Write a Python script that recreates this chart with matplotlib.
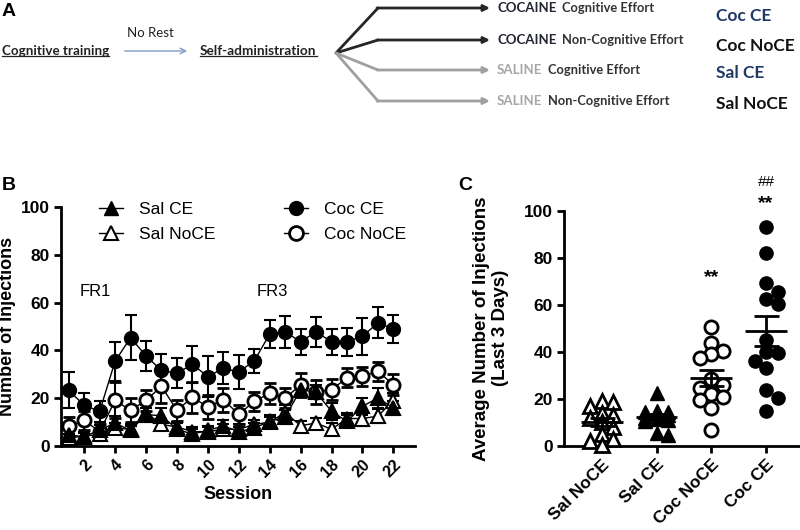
import numpy as np
import matplotlib
matplotlib.use("Agg")
import matplotlib.pyplot as plt
from matplotlib.lines import Line2D

# ---------------- data ----------------
sessions = list(range(1, 23))
session_ticks = [2, 4, 6, 8, 10, 12, 14, 16, 18, 20, 22]

coc_ce = [23.3, 17.0, 14.5, 35.5, 45.3, 37.7, 31.6, 30.4, 34.2, 29.0, 32.5,
          31.0, 35.6, 46.8, 47.8, 43.6, 47.8, 43.6, 43.6, 45.9, 51.5, 49.0]
coc_ce_sem = [7.5, 5.0, 4.3, 8.2, 9.5, 6.3, 6.8, 6.3, 7.7, 8.5, 6.7,
              7.0, 5.0, 6.0, 6.6, 5.4, 6.2, 5.4, 5.8, 7.7, 6.5, 5.9]
coc_noce = [8.2, 10.7, 6.0, 19.1, 14.9, 19.1, 25.0, 14.9, 20.4, 16.3, 19.4,
            13.2, 18.7, 22.0, 20.1, 25.5, 22.5, 23.6, 28.5, 29.1, 31.2, 25.7]
coc_noce_sem = [4.0, 4.0, 3.0, 7.5, 5.0, 4.5, 7.0, 4.5, 6.5, 5.0, 5.0,
                4.0, 4.0, 4.5, 4.0, 5.0, 5.0, 4.5, 4.0, 4.0, 4.0, 4.5]
sal_ce = [4.6, 3.9, 6.7, 9.6, 6.5, 13.1, 12.7, 7.0, 5.0, 6.5, 8.4,
          6.0, 7.5, 10.3, 12.1, 23.6, 22.5, 14.5, 10.3, 16.6, 20.1, 15.9]
sal_ce_sem = [2.0, 2.0, 2.0, 3.0, 2.0, 3.0, 3.0, 2.5, 2.0, 2.0, 2.5,
              2.0, 2.0, 2.5, 3.0, 3.0, 3.0, 3.5, 2.5, 3.5, 4.0, 3.0]
sal_noce = [3.5, 4.0, 5.0, 7.5, 7.0, 14.0, 9.0, 8.0, 6.0, 6.0, 7.0,
            7.0, 9.0, 10.0, 14.0, 8.5, 9.6, 7.0, 11.5, 11.5, 12.5, 19.0]
sal_noce_sem = [1.5, 1.5, 2.0, 2.0, 2.0, 3.0, 2.5, 2.0, 2.0, 2.0, 2.0,
                2.0, 2.0, 2.0, 3.0, 2.0, 2.0, 2.5, 2.5, 3.0, 3.0, 3.0]

groups_c = ["Sal NoCE", "Sal CE", "Coc NoCE", "Coc CE"]
sal_noce_avg = [19, 18.5, 17, 14, 13, 12, 10, 8, 5, 3, 2, 0.5]
sal_ce_avg = [22.5, 15, 14.5, 14.5, 14, 13, 12, 11.5, 11, 10.5, 5.5, 4.5]
coc_noce_avg = [50.5, 43.6, 40.5, 39, 37.5, 28.5, 26, 24.5, 22, 21, 19.5, 16, 6.8]
coc_ce_avg = [92.9, 81.9, 69.1, 65.6, 62.3, 60.3, 45, 40, 39.4, 36.3, 33, 23.8, 20.3, 15]

W, H = 800, 530
fig = plt.figure(figsize=(W / 100, H / 100), dpi=100)
plt.rcParams['font.family'] = ['Liberation Sans', 'DejaVu Sans']


def px_axes(l, t, r, b):
    return fig.add_axes([l / W, 1 - b / H, (r - l) / W, (b - t) / H])


# ---------------- Panel A ----------------
axA = px_axes(0, 0, 800, 130)
axA.set_xlim(0, 800)
axA.set_ylim(130, 0)
axA.axis('off')
fig.text(2 / W, 1 - 12 / H, 'A', fontsize=14, fontweight='bold', va='center', ha='left')

fa = dict(family=['Lato', 'DejaVu Sans'])
t1 = axA.text(2, 51, 'Cognitive training', ha='left', va='center', fontsize=9.6,
              fontweight='bold', color='#222222', **fa)
axA.text(150, 33, 'No Rest', ha='center', va='center', fontsize=9.5, color='#222222', **fa)
axA.annotate('', xy=(190, 51), xytext=(122, 51),
             arrowprops=dict(arrowstyle='->', color='#7f9cc8', lw=1))
t2 = axA.text(200, 51, 'Self-administration', ha='left', va='center', fontsize=9.8,
              fontweight='bold', color='#222222', **fa)

rows_y = [8, 40, 70, 101]
row_cols = ['#262626', '#262626', '#a0a0a0', '#a0a0a0']
row_drug = ['COCAINE', 'COCAINE', 'SALINE', 'SALINE']
row_eff = ['Cognitive Effort', 'Non-Cognitive Effort', 'Cognitive Effort', 'Non-Cognitive Effort']
for y, c in zip(rows_y, row_cols):
    axA.plot([336, 378], [53, y], color=c, lw=2, solid_capstyle='round')
    axA.annotate('', xy=(490, y), xytext=(377, y),
                 arrowprops=dict(arrowstyle='-|>', color=c, lw=2, mutation_scale=9,
                                 shrinkA=0, shrinkB=0))

fig.canvas.draw()
renderer = fig.canvas.get_renderer()
inv = axA.transData.inverted()
for t in (t1, t2):
    bb = t.get_window_extent(renderer)
    (x0, y0), (x1, y1) = inv.transform([(bb.x0, bb.y0), (bb.x1, bb.y1)])
    axA.plot([x0, x1], [y0 - 1, y0 - 1], color='#222222', lw=0.9)

for y, c, d, e in zip(rows_y, row_cols, row_drug, row_eff):
    td = axA.text(497, y, d, ha='left', va='center', fontsize=9.5, fontweight='bold',
                  color=('#1f2430' if c == '#262626' else '#a6a6a6'), **fa)
    bb = td.get_window_extent(renderer)
    xe = inv.transform([(bb.x1, bb.y0)])[0][0]
    axA.text(xe + 6, y, e, ha='left', va='center', fontsize=9.3, fontweight='bold',
             color='#333333', **fa)

right_labels = ['Coc CE', 'Coc NoCE', 'Sal CE', 'Sal NoCE']
right_y = [16, 46, 73, 104]
right_cols = ['#1f3864', '#111111', '#1f3864', '#111111']
for lab, y, c in zip(right_labels, right_y, right_cols):
    axA.text(716, y, lab, ha='left', va='center', fontsize=12.5, fontweight='bold',
             color=c, **fa)

# ---------------- Panel B ----------------
axB = px_axes(61, 207, 415, 446)
fig.text(2 / W, 1 - 185 / H, 'B', fontsize=14, fontweight='bold', va='center', ha='left')

common = dict(color='k', lw=1, elinewidth=1.5, capsize=4.5, capthick=1.5, ms=9.5,
              mec='k', clip_on=False)
axB.errorbar(sessions, coc_ce, yerr=coc_ce_sem, marker='o', mfc='k', mew=1.5, **common)
axB.errorbar(sessions, coc_noce, yerr=coc_noce_sem, marker='o', mfc='white', mew=2, **common)
axB.errorbar(sessions, sal_noce, yerr=sal_noce_sem, marker='^', mfc='white', mew=1.5, **common)
axB.errorbar(sessions, sal_ce, yerr=sal_ce_sem, marker='^', mfc='k', mew=1.5, **common)

axB.set_xlim(0.5, 23.4)
axB.set_ylim(0, 100)
axB.set_yticks([0, 20, 40, 60, 80, 100])
axB.set_xticks(session_ticks)
axB.set_xticklabels([str(s) for s in session_ticks], rotation=45, ha='right',
                    rotation_mode='anchor', fontsize=11.5, fontweight='bold')
for lab in axB.get_yticklabels():
    lab.set_fontsize(12.5)
    lab.set_fontweight('bold')
for s in ['top', 'right']:
    axB.spines[s].set_visible(False)
for s in ['left', 'bottom']:
    axB.spines[s].set_linewidth(2)
axB.tick_params(width=2, length=5, direction='out', pad=3)
axB.set_xlabel('Session', fontsize=13, fontweight='bold', labelpad=4)
axB.set_ylabel('Number of Injections', fontsize=13, fontweight='bold')
axB.yaxis.set_label_coords(-0.128, 0.5)

axB.text(2.7, 64.5, 'FR1', ha='center', va='center', fontsize=12)
axB.text(14.2, 64.5, 'FR3', ha='center', va='center', fontsize=12)

h_salce = Line2D([], [], color='k', lw=1, marker='^', mfc='k', mec='k', ms=10)
h_salnoce = Line2D([], [], color='k', lw=1, marker='^', mfc='white', mec='k', mew=1.5, ms=10)
h_cocce = Line2D([], [], color='k', lw=1, marker='o', mfc='k', mec='k', ms=10)
h_cocnoce = Line2D([], [], color='k', lw=1, marker='o', mfc='white', mec='k', mew=2, ms=10)
legkw = dict(loc='upper left', bbox_transform=fig.transFigure, frameon=False, borderpad=0,
             borderaxespad=0, handlelength=1.4, handletextpad=0.9, labelspacing=0.55,
             prop={'size': 12.5})
leg1 = axB.legend([h_salce, h_salnoce], ['Sal CE', 'Sal NoCE'],
                  bbox_to_anchor=(99 / W, 1 - 202 / H), **legkw)
axB.add_artist(leg1)
axB.legend([h_cocce, h_cocnoce], ['Coc CE', 'Coc NoCE'],
           bbox_to_anchor=(284 / W, 1 - 202 / H), **legkw)

# ---------------- Panel C ----------------
axC = px_axes(564, 210.7, 800, 446)
fig.text(458 / W, 1 - 185 / H, 'C', fontsize=14, fontweight='bold', va='center', ha='left')
axC.set_xlim(-0.69, 3.62)
axC.set_ylim(0, 100)

px_per_unit = 235.3 / 100.0
px_per_cat = 54.8
diam = 11.5


def swarm(vals):
    placed, offs = [], []
    for v in vals:
        yy = v * px_per_unit
        best, best_d = 0.0, -1.0
        for k in [0, 1, -1]:
            xx = k * diam
            dmin = min([np.hypot(xx - a, yy - b) for a, b in placed] or [1e9])
            if dmin >= diam * 0.92:
                best = xx
                break
            if dmin > best_d:
                best, best_d = xx, dmin
        placed.append((best, yy))
        offs.append(best / px_per_cat)
    return np.array(offs)


datasets = [sal_noce_avg, sal_ce_avg, coc_noce_avg, coc_ce_avg]
markers = ['^', '^', 'o', 'o']
fills = ['white', 'k', 'white', 'k']
for i, (vals, m, f) in enumerate(zip(datasets, markers, fills)):
    v = np.array(vals, dtype=float)
    xs = i + swarm(v)
    axC.plot(xs, v, linestyle='none', marker=m, mfc=f, mec='k',
             mew=(2 if f == 'white' else 1), ms=9.5, clip_on=False, zorder=3)
    mean = v.mean()
    sem = v.std(ddof=1) / np.sqrt(len(v))
    axC.hlines(mean, i - 0.38, i + 0.38, color='k', lw=2, zorder=4)
    axC.errorbar([i], [mean], yerr=[sem], fmt='none', ecolor='k', elinewidth=2,
                 capsize=9, capthick=2, zorder=4)

axC.text(2, 71.5, '**', ha='center', va='center', fontsize=14, fontweight='bold')
axC.text(3, 103, '**', ha='center', va='center', fontsize=14, fontweight='bold', clip_on=False)
axC.text(3, 112, '##', ha='center', va='center', fontsize=11, clip_on=False)

axC.set_yticks([0, 20, 40, 60, 80, 100])
axC.set_xticks(range(4))
axC.set_xticklabels(groups_c, rotation=45, ha='right', rotation_mode='anchor',
                    fontsize=12.5, fontweight='bold')
for lab in axC.get_yticklabels():
    lab.set_fontsize(12.5)
    lab.set_fontweight('bold')
for s in ['top', 'right']:
    axC.spines[s].set_visible(False)
for s in ['left', 'bottom']:
    axC.spines[s].set_linewidth(2)
axC.tick_params(width=2, length=5, direction='out', pad=3)
axC.set_ylabel('Average Number of Injections\n(Last 3 Days)', fontsize=13.5,
               fontweight='bold', linespacing=1.1)
axC.yaxis.set_label_coords(-0.235, 0.5)

fig.savefig('out.png', dpi=100)
